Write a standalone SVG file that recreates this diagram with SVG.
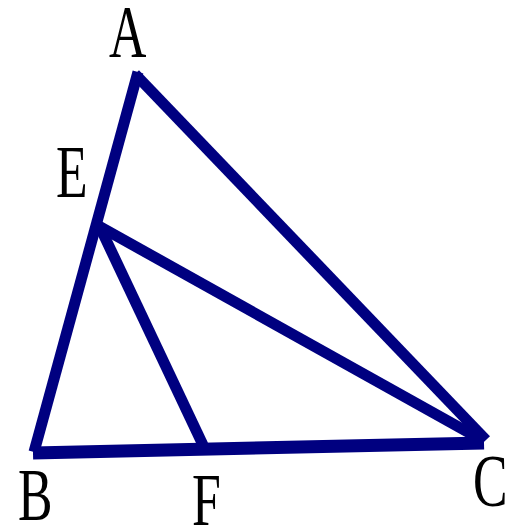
<svg xmlns="http://www.w3.org/2000/svg" width="522" height="526" viewBox="0 0 522 526">
<style>
.seg{stroke:#000080;stroke-width:11;fill:none;stroke-linecap:butt}
.lbl{font-family:"Liberation Serif","Times New Roman",serif;font-size:74px;fill:#000}
</style>
<rect width="522" height="526" fill="#fff"/>
<g id="connectors">
<line class="seg" x1="138" y1="72" x2="34" y2="452"/>
<line class="seg" x1="135" y1="74" x2="486" y2="440"/>
<line class="seg" x1="97" y1="225" x2="482" y2="440"/>
<line class="seg" x1="99" y1="225" x2="203" y2="445"/>
<line class="seg" style="stroke-width:13" x1="33" y1="453" x2="484" y2="443"/>
</g>
<g id="A"><text class="lbl" transform="translate(109,57) scale(0.7,1)">A</text></g>
<g id="E"><text class="lbl" transform="translate(56,197) scale(0.7,1)">E</text></g>
<g id="B"><text class="lbl" transform="translate(18,520) scale(0.7,1)">B</text></g>
<g id="F"><text class="lbl" transform="translate(192,525) scale(0.7,1)">F</text></g>
<g id="C"><text class="lbl" transform="translate(473,506) scale(0.7,1)">C</text></g>
</svg>
